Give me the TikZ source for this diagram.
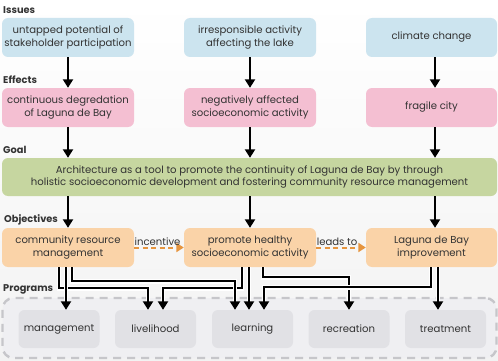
\documentclass[tikz,border=0pt]{standalone}
\usepackage{fontspec}
\setmainfont{Poppins}
\usetikzlibrary{arrows.meta}
\definecolor{issuec}{HTML}{CCE4EF}
\definecolor{effectc}{HTML}{F4BFD2}
\definecolor{goalc}{HTML}{C6D6A0}
\definecolor{objc}{HTML}{FAD3A8}
\definecolor{progc}{HTML}{E1E1E5}
\definecolor{contc}{HTML}{EFEFF2}
\definecolor{dashc}{HTML}{C6C6CA}
\definecolor{orangec}{HTML}{E6953F}
\definecolor{textc}{HTML}{333333}
\begin{document}
\begin{tikzpicture}[x=1pt,y=-1pt,
  box/.style={rounded corners=6pt, align=center, inner sep=0pt,
    font=\fontsize{10.1}{12.8}\selectfont, text=textc, minimum height=39pt},
  issue/.style={box, fill=issuec, minimum width=132pt},
  effect/.style={box, fill=effectc, minimum width=132pt},
  objective/.style={box, fill=objc, minimum width=132pt},
  goalbox/.style={box, fill=goalc, minimum width=495pt, minimum height=38pt},
  progbox/.style={box, fill=progc, minimum width=81pt, minimum height=38pt},
  heading/.style={anchor=west, inner sep=0pt, font=\bfseries\fontsize{9.8}{11}\selectfont, text=textc},
  flow/.style={line width=2.3pt, -{Triangle[length=8.5pt,width=10pt]}},
  halo/.style={preaction={draw=white, line width=4.6pt, -, shorten >=7pt}},
  dashflow/.style={orangec, line width=2pt, dash pattern=on 5pt off 3.5pt,
    -{Triangle[length=7.5pt,width=9pt]}},
  dlabel/.style={font=\fontsize{10.1}{11}\selectfont, text=textc, inner sep=0pt}
]
\useasboundingbox (0,0) rectangle (498,361);
\fill[top color=white, bottom color=black!5] (0,0) rectangle (498,361);

% headings
\node[heading] (hIss) at (3,10) {Issues};
\node[heading] (hEff) at (3,80) {Effects};
\node[heading] (hGoal) at (3,150) {Goal};
\node[heading] (hObj) at (4,220) {Objectives};
\node[heading] (hProg) at (3,289) {Programs};

% programs container
\node[draw=dashc, line width=2.4pt, dash pattern=on 8pt off 6pt, fill=contc,
  rounded corners=11pt, minimum width=494pt, minimum height=60pt, inner sep=0pt]
  (cont) at (249.5,328) {};

% issues
\node[issue] (i1) at (68,37.5) {untapped potential of\\stakeholder participation};
\node[issue] (i2) at (250,37.5) {irresponsible activity\\affecting the lake};
\node[issue, minimum width=131pt] (i3) at (431.5,37.5) {climate change};

% effects
\node[effect] (e1) at (68,107.5) {continuous degredation\\of Laguna de Bay};
\node[effect] (e2) at (250,107.5) {negatively affected\\socioeconomic activity};
\node[effect, minimum width=131pt] (e3) at (431.5,107.5) {fragile city};

% goal
\node[goalbox] (g) at (249.5,177) {Architecture as a tool to promote the continuity of Laguna de Bay by through\\holistic socioeconomic development and fostering community resource management};

% objectives
\node[objective] (o1) at (68,247.5) {community resource\\management};
\node[objective] (o2) at (250,247.5) {promote healthy\\socioeconomic activity};
\node[objective, minimum width=131pt] (o3) at (431.5,247.5) {Laguna de Bay\\improvement};

% programs
\node[progbox] (p1) at (59,329) {management};
\node[progbox] (p2) at (155.5,329) {livelihood};
\node[progbox] (p3) at (252.5,329) {learning};
\node[progbox] (p4) at (349,329) {recreation};
\node[progbox] (p5) at (445.5,329) {treatment};

% issues -> effects
\draw[flow] (i1) -- (e1);
\draw[flow] (i2) -- (e2);
\draw[flow] ([xshift=3.5pt]i3.south) -- ([xshift=3.5pt]e3.north);

% effects -> goal
\draw[flow] (e1.south) -- (e1.south |- g.north);
\draw[flow] (e2.south) -- (e2.south |- g.north);
\draw[flow] ([xshift=3.5pt]e3.south) -- ([xshift=3.5pt]e3.south |- g.north);

% goal -> objectives
\draw[flow] (o1.north |- g.south) -- (o1.north);
\draw[flow] (o2.north |- g.south) -- (o2.north);
\draw[flow] ([xshift=3.5pt]o3.north |- g.south) -- ([xshift=3.5pt]o3.north);

% dashed objective links
\draw[dashflow] (o1.east) -- node[dlabel, pos=0.47, yshift=5.5pt] (lInc) {incentive} (o2.west);
\draw[dashflow] (o2.east) -- node[dlabel, pos=0.42, yshift=5.5pt] (lLead) {leads to} (o3.west);

% objectives -> programs
\draw[flow, halo] ([xshift=-9pt]o1.south) -- ++(0,21) -| ([xshift=-7.5pt]p2.north);
\draw[flow, halo] ([xshift=-2pt]o1.south) -- ([xshift=7pt]p1.north);
\draw[flow, halo] ([xshift=13pt]o2.south) -- ++(0,10) -| (p4.north);
\draw[flow, halo] ([xshift=-0.5pt]o3.south) -- ++(0,20) -| ([xshift=11.5pt]p3.north);
\draw[flow, halo] ([xshift=-8pt]o2.south) -- ++(0,21) -| ([xshift=7.5pt]p2.north);
\draw[flow, halo] ([xshift=4pt]o1.south) -- ++(0,14) -| ([xshift=-17.5pt]p3.north);
\draw[flow, halo] ([xshift=-1pt]o2.south) -- ([xshift=-3.5pt]p3.north);
\draw[flow, halo] ([xshift=6.5pt]o3.south) -- ([xshift=-7.5pt]p5.north);
\end{tikzpicture}
\end{document}
